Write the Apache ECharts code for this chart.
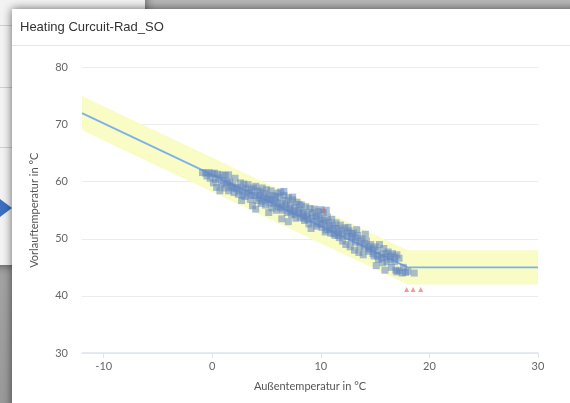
<!DOCTYPE html>
<html>
<head>
<meta charset="utf-8">
<script src="https://cdn.jsdelivr.net/npm/echarts@6/dist/echarts.min.js"></script>
<style>
  html, body { margin:0; padding:0; width:570px; height:403px; overflow:hidden; }
  body { background: linear-gradient(#b8b8b8, #9a9a9a); position:relative; font-family:"Liberation Sans", Arial, sans-serif; }
  #panel { position:absolute; left:-20px; top:-20px; width:165px; height:285px; background:#f3f3f3;
           box-shadow: 0 0 10px rgba(0,0,0,0.55); }
  .pl { position:absolute; left:0; width:165px; height:1px; background:#d0d0d0; }
  #arrow { position:absolute; left:0; top:199px; width:0; height:0; border-top:9px solid transparent;
           border-bottom:9px solid transparent; border-left:12px solid #3d6fc2; }
  #card { position:absolute; left:12px; top:9px; width:600px; height:420px; background:#fff;
          box-shadow: 0 0 9px rgba(0,0,0,0.6); }
  #hdr { position:absolute; left:12px; top:45px; width:570px; height:1px; background:#e4e4e4; }
  #chart { position:absolute; left:0; top:0; width:570px; height:403px; }
</style>
</head>
<body>
<div id="panel"><div class="pl" style="top:45px"></div><div class="pl" style="top:107px"></div><div class="pl" style="top:167px"></div></div>
<div id="arrow"></div>
<div id="card"></div>
<div id="hdr"></div>
<div id="chart"></div>
<script>
// ---- data ----
var titleText = 'Heating Curcuit-Rad_SO';
var xAxisName = 'Außentemperatur in °C';
var yAxisName = 'Vorlauftemperatur in °C';
var xTicks = [-10, 0, 10, 20, 30];
var yTicks = [30, 40, 50, 60, 70, 80];

// heating curve (set point) and tolerance band
var curveX = [-12, 18, 30];
var curveY = [72, 45, 45];
var bandLow = [69, 42, 42];
var bandHigh = [75, 48, 48];

// measured points [outside temp, flow temp]
var measured = [
  [-0.9,61.6],[-0.6,61.5],[-0.3,61.6],[0,61.4],[-0.5,61.0],[0.2,61.5],[0.5,61.3],[-0.2,60.6],[0.3,60.4],[0.1,59.8],
  [0.6,60.7],[0.9,61.2],[1.2,61.1],[1.5,61.2],[0.8,59.6],[0.4,59.0],[0.7,58.4],
  [1.0,60.2],[1.3,59.6],[1.6,60.0],[1.9,59.4],[2.1,60.6],[2.3,59.0],[2.6,59.8],[2.8,58.6],[1.1,58.9],[1.5,58.4],
  [2.0,58.1],[2.4,57.8],[2.9,59.6],[3.1,58.9],[3.0,57.4],[2.7,56.7],[3.3,59.5],[3.4,58.2],[3.6,57.6],[1.8,58.9],[2.2,58.8],
  [3.8,58.9],[4.0,59.2],[4.2,58.4],[4.4,57.6],[4.6,58.9],[4.8,57.9],[5.0,58.6],[5.2,57.2],[5.4,58.4],[5.6,57.6],
  [5.8,56.8],[6.0,58.0],[4.1,56.7],[4.5,56.2],[4.9,55.9],[5.3,56.3],[5.5,55.4],[5.9,55.0],[6.2,57.3],[6.4,56.2],
  [3.9,57.6],[4.3,57.2],[4.7,57.0],[5.1,56.8],[5.7,56.2],[6.1,55.6],[3.7,55.8],[4.0,55.2],[5.2,54.6],
  [6.3,58.2],[6.6,57.6],[6.8,56.7],[7.0,57.2],[7.2,56.0],[7.4,56.8],[7.6,55.5],[7.8,56.4],[8.0,55.0],[8.2,55.9],
  [8.4,54.6],[8.6,55.6],[8.8,54.2],[9.0,55.3],[6.5,55.0],[6.9,54.6],[7.3,54.2],[7.7,53.6],[8.1,53.8],[8.5,53.2],
  [8.9,52.6],[6.7,56.0],[7.1,55.3],[7.5,54.9],[7.9,54.7],[8.3,54.4],[8.7,54.0],[6.4,53.5],[7.0,53.0],[6.6,58.3],[7.4,57.3],
  [9.2,54.6],[9.4,55.2],[9.6,53.9],[9.8,54.8],[10.0,53.4],[10.2,54.6],[10.4,52.7],[10.6,53.8],[10.8,52.2],[11.0,53.4],
  [11.2,51.8],[11.4,52.8],[11.6,51.2],[11.8,52.4],[12.0,50.8],[9.3,53.0],[9.7,52.6],[10.1,52.0],[10.5,51.6],[10.9,51.0],
  [11.3,50.6],[11.7,50.2],[9.5,54.0],[9.9,53.6],[10.3,53.2],[10.7,52.9],[11.1,52.3],[11.5,51.8],[11.9,51.5],[10.0,55.1],
  [9.1,51.8],[10.5,55.0],
  [12.2,51.9],[12.4,50.4],[12.6,51.4],[12.8,49.8],[13.0,51.0],[13.2,49.4],[13.4,50.6],[13.6,48.8],[13.8,50.0],[14.0,48.4],
  [14.2,49.6],[14.4,47.8],[14.6,49.0],[14.8,47.4],[15.0,48.6],[12.3,49.0],[12.7,48.6],[13.1,48.0],[13.5,47.6],[13.9,47.2],
  [12.5,52.0],[13.3,51.6],[14.1,50.8],[14.5,48.2],[14.9,47.0],[12.9,50.4],
  [15.2,47.9],[15.4,49.0],[15.6,47.2],[15.8,48.3],[16.0,46.8],[16.2,47.7],[16.4,46.4],[16.6,47.4],[16.8,46.0],[15.3,46.4],
  [15.7,45.8],[16.1,46.0],[15.9,44.5],[17.0,47.2],[17.2,46.6],[16.5,45.0],[17.0,44.2],[17.2,44.4],[17.5,44.0],[17.8,44.1],
  [18.0,44.3],[18.6,44.0],[17.6,45.0],[16.9,44.5],[15.1,45.3],
  [1.4,59.9],[1.7,59.1],[2.5,58.4],[3.2,58.0],[3.5,56.9],[4.4,58.2],[4.6,56.6],[5.0,57.4],[5.4,56.9],[5.8,57.4],
  [6.0,56.3],[6.3,55.4],[6.8,55.6],[7.2,54.8],[7.6,54.3],[8.0,56.0],[8.4,53.6],[8.8,53.4],[9.2,53.6],[9.6,52.2],
  [10.0,52.6],[10.4,51.2],[10.8,51.6],[11.2,50.9],[11.6,50.6],[12.0,49.6],[12.4,51.0],[12.8,50.9],[13.2,50.2],[13.6,49.6],
  [14.0,49.2],[14.4,48.6],[14.8,48.2],[15.2,47.0],[15.6,46.6],[16.0,47.4],[16.4,47.0],[16.8,46.8],[2.8,57.6],[3.6,58.6]
];

// outliers [outside temp, flow temp]
var outliers = [[10.3,55.1],[17.9,41.1],[18.5,41.1],[19.2,41.1]];

// ---- chart ----
var chart = echarts.init(document.getElementById('chart'), null, {renderer:'canvas'});
var labelFont = 'Lato, "Open Sans", sans-serif';

var bandSeriesData = curveX.map(function (x, i) { return [x, bandLow[i], bandHigh[i]]; });
var curveData = curveX.map(function (x, i) { return [x, curveY[i]]; });

chart.setOption({
  animation: false,
  title: {
    text: titleText, left: 15, top: 16,
    textStyle: { fontSize: 13, fontWeight: 'normal', color: '#333', fontFamily: '"Liberation Sans", Arial, sans-serif' }
  },
  grid: { left: 82, right: 32, top: 67.5, bottom: 50, containLabel: false },
  xAxis: {
    type: 'value', min: -12, max: 30,
    name: xAxisName, nameLocation: 'middle', nameGap: 28,
    nameTextStyle: { color: '#555', fontSize: 11, fontFamily: labelFont },
    axisLine: { show: true, lineStyle: { color: '#dde3ef', width: 1.5 } },
    axisTick: { show: true, customValues: xTicks, length: 5, lineStyle: { color: '#dde3ef' } },
    axisLabel: { customValues: xTicks, color: '#666', fontSize: 11, margin: 8, fontFamily: labelFont },
    splitLine: { show: false }
  },
  yAxis: {
    type: 'value', min: 30, max: 80, interval: 10,
    name: yAxisName, nameLocation: 'middle', nameGap: 42, nameRotate: 90,
    nameTextStyle: { color: '#555', fontSize: 11, fontFamily: labelFont },
    axisLine: { show: false }, axisTick: { show: false },
    axisLabel: { color: '#666', fontSize: 11, margin: 14, fontFamily: labelFont },
    splitLine: { lineStyle: { color: '#ececec', width: 1 } }
  },
  series: [
    {
      type: 'custom', name: 'band', z: 1, silent: true,
      data: bandSeriesData,
      renderItem: function (params, api) {
        if (params.dataIndex !== 0) return null;
        var pts = [];
        for (var i = 0; i < curveX.length; i++) pts.push(api.coord([curveX[i], bandHigh[i]]));
        for (var j = curveX.length - 1; j >= 0; j--) pts.push(api.coord([curveX[j], bandLow[j]]));
        return { type: 'polygon', shape: { points: pts }, style: { fill: '#fafcc6' } };
      }
    },
    {
      type: 'line', name: 'curve', z: 2,
      showSymbol: false, symbol: 'none',
      lineStyle: { color: '#7db1ea', width: 1.8 },
      data: curveData
    },
    {
      type: 'scatter', name: 'measured', z: 3,
      symbol: 'rect', symbolSize: 7,
      itemStyle: { color: 'rgba(100,135,192,0.68)' },
      data: measured
    },
    {
      type: 'scatter', name: 'outliers', z: 4,
      symbol: 'triangle', symbolSize: 5,
      itemStyle: { color: 'rgba(230,100,100,0.8)' },
      data: outliers
    }
  ]
});
</script>
</body>
</html>
